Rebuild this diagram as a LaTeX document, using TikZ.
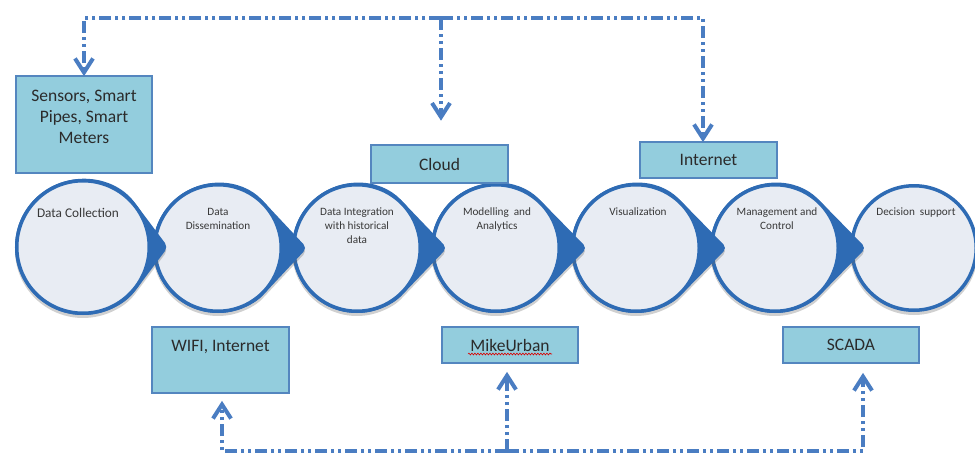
\documentclass[tikz,border=0pt]{standalone}
\usepackage{fontspec}
\setmainfont{Carlito}
\usetikzlibrary{shadows,decorations.pathmorphing}
\definecolor{cblue}{HTML}{2E6BB4}
\definecolor{cfill}{HTML}{E8ECF3}
\definecolor{bfill}{HTML}{93CDDD}
\definecolor{bline}{HTML}{5486BF}
\definecolor{lblue}{HTML}{4A7DC2}
\definecolor{tgray}{HTML}{2B2B2B}
\definecolor{ctgray}{HTML}{383838}
\newcommand\tabdrop[4]{% cx, cy, r, tip distance
  \pgfmathsetmacro\tdal{acos(#3/#4)}
  \fill[cblue, rounded corners=5pt,
        drop shadow={shadow xshift=0pt, shadow yshift=-3pt, opacity=0.3, fill=black!60}]
    ({#1+#4},#2) -- ({#1+#3*cos(\tdal)},{#2-#3*sin(\tdal)})
    arc[start angle=-\tdal, end angle=\tdal-360, radius=#3] -- cycle;
}
% open chevron arrowhead: #1 vertex, #2 = 1 (pointing down) or -1 (pointing up)
\newcommand\chevron[2]{%
  \draw[chev] ([shift={(-9,{-14*#2})}]#1) -- (#1) -- ([shift={(9,{-14*#2})}]#1);
}
\tikzset{
  stage/.style={circle, draw=cblue, line width=3.5pt, fill=cfill, inner sep=0pt},
  stagetxt/.style={text=ctgray, font=\fontsize{11.2}{14}\selectfont, align=center, inner sep=0pt, anchor=north},
  infobox/.style={draw=bline, line width=1.1pt, fill=bfill, inner sep=0pt, text=tgray,
                  font=\fontsize{17.5}{21}\selectfont, minimum width=137pt},
  boxtxt/.style={text=tgray, font=\fontsize{17.5}{21}\selectfont, align=center, inner sep=0pt},
  conn/.style={draw=lblue, line width=3.8pt,
               dash pattern=on 12pt off 4pt on 3pt off 4pt on 3pt off 4pt},
  chev/.style={draw=lblue, line width=4pt, solid, line join=miter, line cap=butt}
}
\begin{document}
\begin{tikzpicture}[x=1pt,y=-1pt]
\useasboundingbox (0,0) rectangle (975,455);
\clip (0,0) rectangle (975,455);
\fill[white] (0,0) rectangle (975,455);

% circles, drawn right to left so each tab lies over the next circle
\fill[black!60, opacity=0.3] (914,251) circle[radius=64];
\node[stage, minimum size=124.5pt] (c7) at (914,248) {};
\tabdrop{775}{248}{65}{91}
\node[stage, minimum size=126.5pt] (c6) at (775,248) {};
\tabdrop{636}{248}{65}{91}
\node[stage, minimum size=126.5pt] (c5) at (636,248) {};
\tabdrop{496}{248}{65}{91}
\node[stage, minimum size=126.5pt] (c4) at (496,248) {};
\tabdrop{357}{248}{65}{90}
\node[stage, minimum size=126.5pt] (c3) at (357,248) {};
\tabdrop{218}{248}{65}{89}
\node[stage, minimum size=126.5pt] (c2) at (218,248) {};
\tabdrop{83}{247}{68}{85}
\node[stage, minimum size=132.5pt] (c1) at (83,247) {};

% stage labels
\node[stagetxt, font=\fontsize{13.3}{15}\selectfont, anchor=base] (t1) at (78,217.5) {Data Collection};
\node[stagetxt] (t2) at (218,208) {Data\\Dissemination};
\node[stagetxt] (t3) at (357,208) {Data Integration\\with historical\\data};
\node[stagetxt] (t4) at (497,208) {Modelling~~and\\Analytics};
\node[stagetxt] (t5) at (638,208) {Visualization};
\node[stagetxt] (t6) at (777,208) {Management and\\Control};
\node[stagetxt] (t7) at (916,208) {Decision~~support};

% boxes
\node[infobox, minimum width=136pt, minimum height=97pt] (sensors) at (84,124.5) {};
\node[boxtxt, anchor=north] (sensorstxt) at (84,89.5) {Sensors, Smart\\Pipes, Smart\\Meters};
\node[infobox, minimum height=38pt] (cloud) at (439.5,164) {Cloud};
\node[infobox, minimum height=36pt] (internet) at (708.5,160) {Internet};
\node[infobox, minimum height=66pt] (wifi) at (220.5,360) {};
\node[boxtxt, anchor=base] (wifitxt) at (220.5,351) {WIFI, Internet};
\node[infobox, minimum width=136pt, minimum height=36pt] (mike) at (510,345) {MikeUrban};
\node[infobox, minimum width=136pt, minimum height=36pt] (scada) at (851,345) {SCADA};
\draw[red!85!black, line width=0.6pt, decorate,
      decoration={snake, amplitude=0.9pt, segment length=3pt}]
  ([xshift=-42pt,yshift=-3pt]mike.base) -- ([xshift=42pt,yshift=-3pt]mike.base);

% top connector
\coordinate (topmid) at (441,18);
\coordinate (sensv) at ([yshift=3pt]sensors.north);
\coordinate (cloudv) at (441,117);
\coordinate (intv) at ([xshift=-5.5pt,yshift=3pt]internet.north);
\draw[conn] (topmid) -| (sensv);
\draw[conn] (topmid) -| (intv);
\draw[conn] (topmid) -- (cloudv);
\chevron{sensv}{1}
\chevron{cloudv}{1}
\chevron{intv}{1}

% bottom connector
\coordinate (botmid) at (507,451);
\coordinate (wifiv) at ([xshift=1.5pt,yshift=-11pt]wifi.south);
\coordinate (mikev) at ([yshift=-12pt]botmid |- mike.south);
\coordinate (scadav) at ([xshift=12pt,yshift=-13pt]scada.south);
\draw[conn] (botmid) -| (wifiv);
\draw[conn] (botmid) -- (mikev);
\draw[conn] (botmid) -| (scadav);
\chevron{wifiv}{-1}
\chevron{mikev}{-1}
\chevron{scadav}{-1}
\end{tikzpicture}
\end{document}
